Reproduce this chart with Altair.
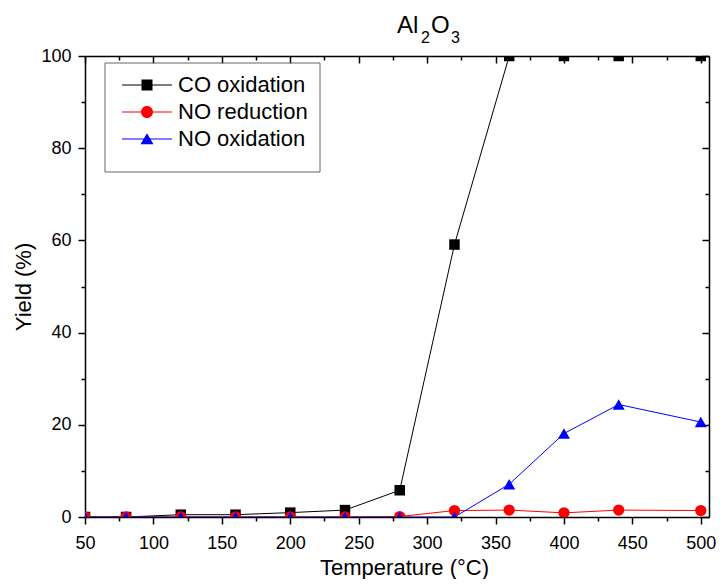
import altair as alt
import pandas as pd

# ---------------- data ----------------
temps = [50, 80, 120, 160, 200, 240, 280, 320, 360, 400, 440, 500]
co_oxidation = [0, 0, 0.5, 0.5, 0.95, 1.5, 5.8, 59.1, 100, 100, 100, 100]
no_reduction = [0, 0, 0, 0, 0, 0, 0.1, 1.4, 1.5, 0.9, 1.5, 1.4]
no_oxidation = [0, 0, 0, 0, 0, 0, 0, 0, 7.1, 18.1, 24.4, 20.6]

series_names = ["CO oxidation", "NO reduction", "NO oxidation"]
series_colors = ["#000000", "#FF0000", "#0000FF"]
marker_shapes = ["square", "circle", "triangle-up"]
marker_sizes = [110, 144, 180]

x_major = [50, 100, 150, 200, 250, 300, 350, 400, 450, 500]
x_minor = [75, 125, 175, 225, 275, 325, 375, 425, 475]
y_major = [0, 20, 40, 60, 80, 100]
y_minor = [10, 30, 50, 70, 90]

# legend symbols: line + marker, in units of sqrt(size)/2 = 5px
legend_paths = [
    "M-5,-0.1H5V0.1H-5Z M-1.1,-1.1H1.1V1.1H-1.1Z",
    "M-5,-0.1H5V0.1H-5Z M1.2,0A1.2,1.2,0,1,1,-1.2,0A1.2,1.2,0,1,1,1.2,0Z",
    "M-5,-0.1H5V0.1H-5Z M0,-1.15L1.3,1.05L-1.3,1.05Z",
]

rows = []
for name, vals in zip(series_names, [co_oxidation, no_reduction, no_oxidation]):
    for t, v in zip(temps, vals):
        rows.append({"temp": t, "yield": v, "series": name})
df = pd.DataFrame(rows)

FONT = "Liberation Sans"
W, H = 624, 461
LEFT = 85  # absolute x of plot's left edge (8px page margin + padding)

xs = alt.Scale(domain=[50, 506], nice=False, zero=False)
ys = alt.Scale(domain=[0, 100], nice=False, zero=False)


def ax(orient, values, size, labels=False, domain=False, offset=0, **kw):
    args = dict(
        orient=orient, values=values, tickSize=size, tickWidth=1.5,
        tickColor="black", domain=domain, domainColor="black", domainWidth=1.5,
        grid=False, labels=labels, offset=offset,
    )
    if labels:
        args.update(labelFont=FONT, labelFontSize=18, labelColor="black",
                    labelFlush=False, labelOverlap=False, labelBound=False)
    args.update(kw)
    if "title" not in args:
        args["title"] = None
    return alt.Axis(**args)


base = alt.Chart(df)
color_scale = alt.Scale(domain=series_names, range=series_colors)

lines = base.mark_line(strokeWidth=1, clip=True).encode(
    x=alt.X("temp:Q", scale=xs,
            axis=ax("bottom", x_major, 7, labels=True, domain=True, labelPadding=10,
                    title="Temperature (°C)", titleFont=FONT, titleFontSize=22,
                    titleFontWeight="normal", titleColor="black",
                    titleBaseline="alphabetic", titleY=57, titleX=404 - LEFT)),
    y=alt.Y("yield:Q", scale=ys,
            axis=ax("left", y_major, 7, labels=True, domain=True, labelPadding=7,
                    title="Yield (%)", titleFont=FONT, titleFontSize=22,
                    titleFontWeight="normal", titleColor="black",
                    titleBaseline="alphabetic", titleAngle=270,
                    titleX=30 - LEFT, titleY=H / 2)),
    color=alt.Color("series:N", scale=color_scale, legend=None),
)

points = base.mark_point(filled=True, opacity=1, clip=True, strokeWidth=0).encode(
    x=alt.X("temp:Q", scale=xs, axis=ax("bottom", x_minor, 4)),
    y=alt.Y("yield:Q", scale=ys, axis=ax("left", y_minor, 4)),
    color=alt.Color("series:N", scale=color_scale, legend=None),
    shape=alt.Shape("series:N", scale=alt.Scale(domain=series_names, range=marker_shapes), legend=None),
    size=alt.Size("series:N", scale=alt.Scale(domain=series_names, range=marker_sizes), legend=None),
)

frame_major = base.transform_filter("false").mark_point().encode(
    x=alt.X("temp:Q", scale=xs, axis=ax("bottom", x_major, 7, domain=True, offset=-H)),
    y=alt.Y("yield:Q", scale=ys, axis=ax("left", y_major, 7, domain=True, offset=-W)),
)
frame_minor = base.transform_filter("false").mark_point().encode(
    x=alt.X("temp:Q", scale=xs, axis=ax("bottom", x_minor, 4, offset=-H)),
    y=alt.Y("yield:Q", scale=ys, axis=ax("left", y_minor, 4, offset=-W)),
)

leg_props = dict(
    orient="none", legendX=147 - LEFT - 11, legendY=18, title=None, padding=0,
    labelFont=FONT, labelFontSize=22, labelColor="black", labelOffset=20,
    rowPadding=5, symbolSize=100, symbolStrokeWidth=0, symbolOffset=0,
    labelLimit=300,
)
legend_layer = base.transform_filter("false").mark_point(filled=True, opacity=1, size=100).encode(
    x=alt.X("temp:Q", scale=xs, axis=None),
    y=alt.Y("yield:Q", scale=ys, axis=None),
    color=alt.Color("series:N", scale=color_scale, legend=alt.Legend(**leg_props)),
    shape=alt.Shape("series:N", scale=alt.Scale(domain=series_names, range=legend_paths),
                    legend=alt.Legend(**leg_props)),
)

one = alt.Data(values=[{}])
legend_box = alt.Chart(one).mark_rect(fill="white", fillOpacity=0, stroke="#666666", strokeWidth=1).encode(
    x=alt.value(105 - LEFT), x2=alt.value(320 - LEFT), y=alt.value(7), y2=alt.value(116)
)


def txt(s, x, y, size):
    return alt.Chart(one).mark_text(
        text=s, align="left", baseline="alphabetic", font=FONT, fontSize=size, color="black"
    ).encode(x=alt.value(x - LEFT), y=alt.value(y))


title_parts = [
    txt("Al", 397, -23, 24),
    txt("2", 421, -13, 16),
    txt("O", 431, -23, 24),
    txt("3", 451, -13, 16),
]

chart = alt.layer(
    frame_minor, frame_major, lines, points, legend_layer, legend_box, *title_parts
).resolve_scale(
    color="independent", shape="independent"
).resolve_axis(
    x="independent", y="independent"
).properties(
    width=W, height=H,
    padding={"left": LEFT - 8, "top": 48, "right": 708 - (LEFT - 8) - W, "bottom": 571 - 48 - H},
    autosize=alt.AutoSizeParams(type="none"),
).configure_view(stroke=None)

chart.save("out.html", embed_options={"renderer": "svg", "actions": False})
